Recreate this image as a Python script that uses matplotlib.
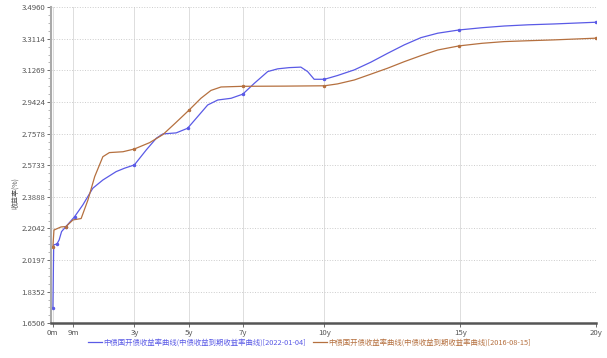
import numpy as np
import matplotlib
matplotlib.use("Agg")
import matplotlib.pyplot as plt
from matplotlib.ticker import AutoMinorLocator

plt.rcParams['font.family'] = ['Noto Sans CJK SC', 'DejaVu Sans']

# tenor (years) and yield (%)
t_2022 = [0.0, 0.03, 0.15, 0.23, 0.32, 0.48, 0.80, 1.10, 1.47, 1.84, 2.33, 2.64, 3.0,
          3.44, 3.81, 4.05, 4.54, 4.96, 5.33, 5.7, 6.07, 6.56, 6.99, 7.42, 7.91,
          8.28, 8.7, 9.13, 9.38, 9.62, 10.0, 10.48, 11.1, 11.71, 12.33, 12.94,
          13.55, 14.17, 14.96, 15.8, 16.62, 17.5, 18.46, 20.0]
y_2022 = [1.738, 2.108, 2.114, 2.137, 2.186, 2.215, 2.273, 2.341, 2.439, 2.487,
          2.536, 2.556, 2.575, 2.663, 2.731, 2.756, 2.762, 2.789, 2.857, 2.925,
          2.954, 2.964, 2.988, 3.052, 3.120, 3.136, 3.143, 3.146, 3.120, 3.075,
          3.075, 3.097, 3.130, 3.175, 3.227, 3.276, 3.318, 3.344, 3.363, 3.376,
          3.386, 3.393, 3.398, 3.408]

t_2016 = [0.0, 0.04, 0.30, 0.48, 0.74, 1.04, 1.29, 1.54, 1.84, 2.08, 2.58, 3.0,
          3.56, 4.05, 4.5, 5.0, 5.45, 5.82, 6.19, 6.99, 8.5, 10.0, 10.48, 11.1,
          11.71, 12.33, 12.94, 13.55, 14.17, 14.96, 15.8, 16.62, 17.5, 18.46, 20.0]
y_2016 = [2.098, 2.195, 2.213, 2.215, 2.254, 2.262, 2.370, 2.507, 2.623, 2.647,
          2.652, 2.668, 2.705, 2.752, 2.818, 2.893, 2.964, 3.010, 3.030, 3.034,
          3.035, 3.037, 3.048, 3.071, 3.105, 3.140, 3.178, 3.213, 3.246, 3.270,
          3.285, 3.295, 3.300, 3.305, 3.315]

key_tenors = [0.0, 0.15, 0.48, 0.80, 3.0, 4.96, 5.0, 6.99, 10.0, 14.96, 20.0]

x_ticks = [0, 0.75, 3, 5, 7, 10, 15, 20]
x_labels = ['0m', '9m', '3y', '5y', '7y', '10y', '15y', '20y']
y_ticks = list(np.linspace(1.6506, 3.4960, 11))
y_labels = ['1.6506', '1.8352', '2.0197', '2.2042', '2.3888', '2.5733',
            '2.7578', '2.9424', '3.1269', '3.3114', '3.4960']

label_2022 = '中债国开债收益率曲线(中债收益到期收益率曲线)[2022-01-04]'
label_2016 = '中债国开债收益率曲线(中债收益到期收益率曲线)[2016-08-15]'
c_blue = '#5a5ae6'
c_brown = '#b5703f'

fig = plt.figure(figsize=(6.07, 3.58), dpi=100)
ax = fig.add_axes([0.0840, 0.097, 0.8980, 0.883])

l1, = ax.plot(t_2022, y_2022, color=c_blue, lw=0.9, solid_joinstyle='round',
              label=label_2022)
l2, = ax.plot(t_2016, y_2016, color=c_brown, lw=0.9, solid_joinstyle='round',
              label=label_2016)
m1 = [i for i, t in enumerate(t_2022) if t in key_tenors]
m2 = [i for i, t in enumerate(t_2016) if t in key_tenors]
ax.plot([t_2022[i] for i in m1], [y_2022[i] for i in m1], 'o', color=c_blue, ms=1.5)
ax.plot([t_2016[i] for i in m2], [y_2016[i] for i in m2], 'o', color=c_brown, ms=1.5)

ax.set_xlim(-0.07, 20)
ax.set_ylim(1.6506, 3.4960)
ax.set_xticks(x_ticks)
ax.set_xticklabels(x_labels)
ax.set_yticks(y_ticks)
ax.set_yticklabels(y_labels)
ax.yaxis.set_minor_locator(AutoMinorLocator(4))
ax.tick_params(axis='both', labelsize=5.6, colors='#555555', length=3, width=0.6)
ax.tick_params(axis='y', which='minor', length=2, width=0.5, colors='#999999')
ax.tick_params(axis='y', pad=1)
ax.tick_params(axis='x', pad=1)

ax.grid(axis='y', color='#cccccc', ls=':', lw=0.7)
ax.grid(axis='x', color='#dddddd', ls='-', lw=0.7)
for s in ['top', 'right']:
    ax.spines[s].set_visible(False)
ax.spines['left'].set_color('#aaaaaa')
ax.spines['left'].set_linewidth(1.5)
ax.spines['bottom'].set_color('#555555')
ax.spines['bottom'].set_linewidth(1.8)

fig.text(0.025, 0.46, '收益率(%)', rotation=90, fontsize=5, color='#555555',
         ha='center', va='center')

leg = fig.legend(handles=[l1, l2], loc='center', bbox_to_anchor=(0.51, 0.042), ncol=2,
                 frameon=False, fontsize=5.3, handlelength=1.9, handletextpad=0.2,
                 columnspacing=0.9)
for txt, c in zip(leg.get_texts(), [c_blue, c_brown]):
    txt.set_color(c)

fig.savefig('out.png', dpi=100)
